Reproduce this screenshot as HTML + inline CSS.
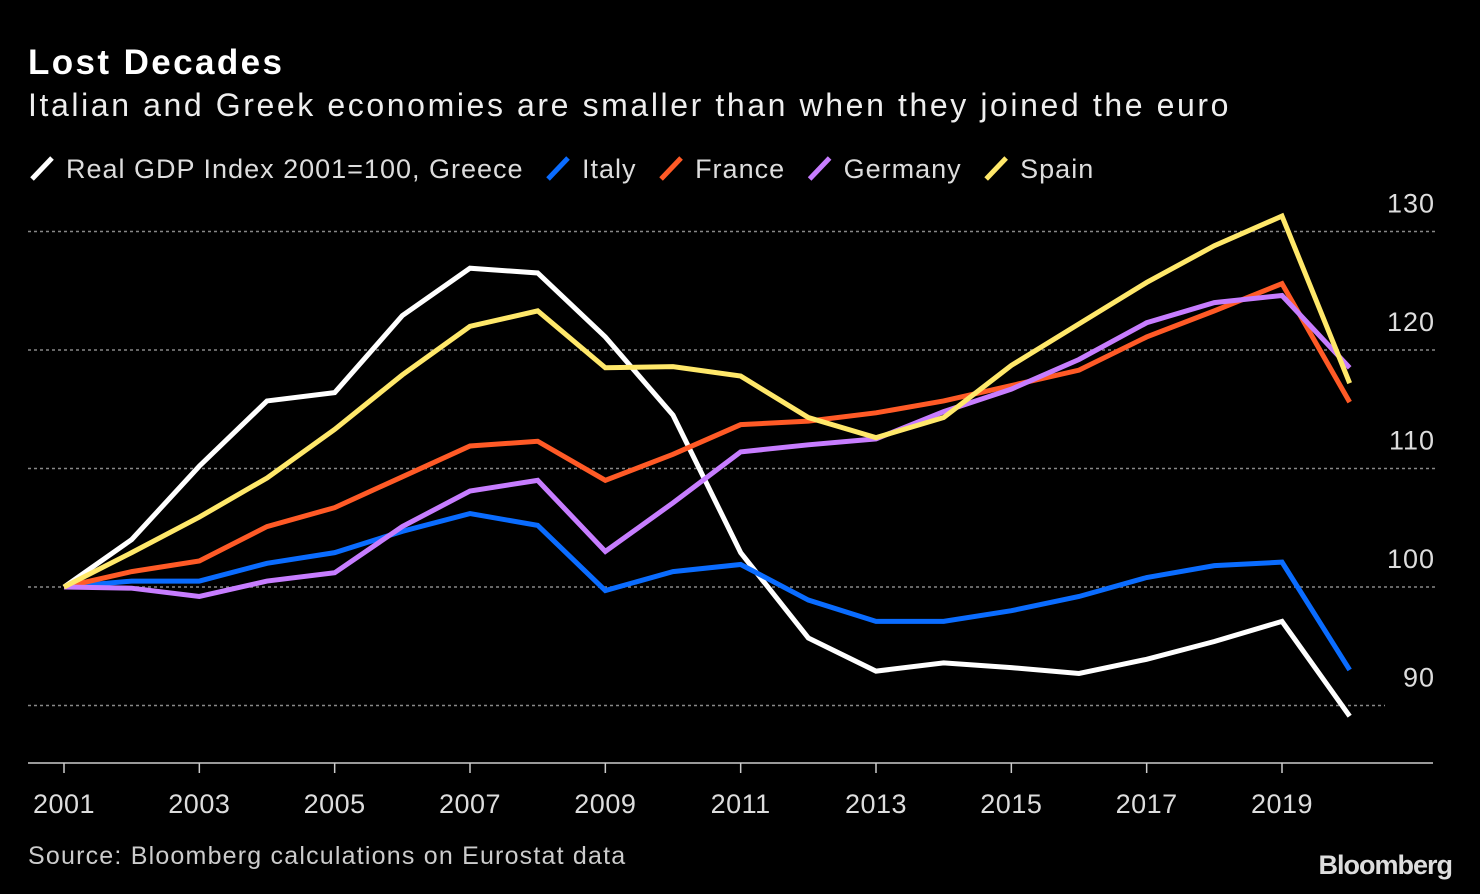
<!DOCTYPE html>
<html><head><meta charset="utf-8"><style>
html,body{margin:0;padding:0;background:#000;}
body{width:1480px;height:894px;overflow:hidden;font-family:"Liberation Sans",sans-serif;color:#fff;position:relative;}
.t{position:absolute;white-space:nowrap;}
</style></head><body>
<div class="t" style="left:28px;top:43px;font-size:35px;font-weight:bold;letter-spacing:2.4px;">Lost Decades</div>
<div class="t" style="left:28px;top:87px;font-size:32px;color:#eee;letter-spacing:2.6px;">Italian and Greek economies are smaller than when they joined the euro</div>
<svg id="c" width="1480" height="894" style="position:absolute;left:0;top:0"></svg>
<div class="t" style="left:28px;top:842px;font-size:25px;color:#ccc;letter-spacing:1.2px;">Source: Bloomberg calculations on Eurostat data</div>
<div class="t" style="right:28px;top:850px;font-size:27px;font-weight:bold;color:#ddd;letter-spacing:-1px;">Bloomberg</div>
<script>
const years=[2001,2002,2003,2004,2005,2006,2007,2008,2009,2010,2011,2012,2013,2014,2015,2016,2017,2018,2019,2020];
const greece=[100,104,110.2,115.7,116.4,122.9,126.9,126.5,121.1,114.5,102.9,95.7,92.9,93.6,93.2,92.7,93.9,95.4,97.1,89.1];
const italy=[100,100.5,100.5,102,102.9,104.7,106.2,105.2,99.7,101.3,101.9,98.9,97.1,97.1,98,99.2,100.8,101.8,102.1,93];
const france=[100,101.3,102.2,105.1,106.7,109.3,111.9,112.3,109,111.2,113.7,114,114.7,115.7,117,118.3,121.1,123.3,125.6,115.6];
const germany=[100,99.9,99.2,100.5,101.2,105.1,108.1,109,103,107.1,111.4,112,112.5,114.8,116.7,119.2,122.3,124,124.6,118.5];
const spain=[100,102.9,105.9,109.2,113.3,117.9,122,123.3,118.5,118.6,117.8,114.3,112.6,114.3,118.7,122.2,125.7,128.8,131.3,117.2];
const yTicks=[90,100,110,120,130];
const xTicks=[2001,2003,2005,2007,2009,2011,2013,2015,2017,2019];
const seriesNames=["Real GDP Index 2001=100, Greece","Italy","France","Germany","Spain"];
const seriesColors=["#ffffff","#0a6cff","#ff5a26","#c77dff","#ffe86a"];
const seriesData=[greece,italy,france,germany,spain];
const NS="http://www.w3.org/2000/svg";
const svg=document.getElementById('c');
const x=v=>64+(v-2001)*(1282-64)/18;
const y=v=>587-(v-100)*11.85;
function mk(t,a){const e=document.createElementNS(NS,t);for(const k in a)e.setAttribute(k,a[k]);svg.appendChild(e);return e;}
yTicks.forEach(v=>{
  const g=mk('line',{x1:28,x2:v==90?1385:1435,y1:y(v),y2:y(v),stroke:'#888','stroke-width':1.5,'stroke-dasharray':'3,3'});
  
  
  const t=mk('text',{x:1435,y:y(v)-19,'text-anchor':'end','font-size':27,fill:'#ddd','font-family':'Liberation Sans, sans-serif','letter-spacing':1});
  t.textContent=v;
  
  
});
const ax=mk('line',{x1:28,x2:1433,y1:763,y2:763,stroke:'#ccc','stroke-width':1.5});


xTicks.forEach(v=>{
  const tk=mk('line',{x1:x(v),x2:x(v),y1:763,y2:773,stroke:'#ccc','stroke-width':1.5});
  
  
  const t=mk('text',{x:x(v),y:813,'text-anchor':'middle','font-size':27,fill:'#ddd','font-family':'Liberation Sans, sans-serif','letter-spacing':0.5});
  t.textContent=v;
  
  
});
seriesData.forEach((d,i)=>{
  const p=mk('polyline',{points:d.map((v,j)=>x(years[j])+','+y(v)).join(' '),fill:'none',stroke:seriesColors[i],'stroke-width':5,'stroke-linejoin':'miter'});
  
  
});
let lx=32;
seriesNames.forEach((n,i)=>{
  const s=mk('line',{x1:lx,y1:179,x2:lx+20,y2:158,stroke:seriesColors[i],'stroke-width':5});
  
  
  const t=mk('text',{x:lx+34,y:178,'font-size':27,fill:'#ddd','font-family':'Liberation Sans, sans-serif','letter-spacing':1});
  t.textContent=n;
  
  
  lx+=34+t.getComputedTextLength()+24.5;
});
</script>
</body></html>
